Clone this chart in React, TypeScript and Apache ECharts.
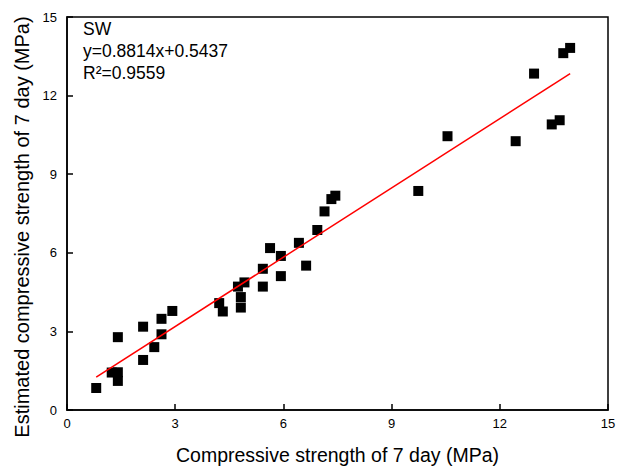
import React, { useEffect, useRef } from "react";
import * as echarts from "echarts";

const measuredX = [
  0.81, 1.24, 1.41, 1.41, 1.41, 2.11, 2.11, 2.42, 2.62, 2.62, 2.92,
  4.22, 4.32, 4.74, 4.92, 4.82, 4.82, 5.43, 5.43, 5.63, 5.93, 5.93, 6.43, 6.63, 6.94, 7.14, 7.33, 7.44,
  10.55, 9.74, 12.95, 12.44, 13.44, 13.66, 13.76, 13.95,
];
const estimatedY = [
  0.84, 1.43, 1.44, 1.11, 2.78, 3.18, 1.91, 2.4, 3.48, 2.89, 3.78,
  4.08, 3.76, 4.71, 4.87, 4.31, 3.91, 4.71, 5.39, 6.18, 5.88, 5.11, 6.38, 5.51, 6.87, 7.58, 8.05, 8.18,
  10.45, 8.36, 12.84, 10.26, 10.9, 11.06, 13.62, 13.82,
];
const slope = 0.8814;
const intercept = 0.5437;
const fitRange = [0.81, 13.95];
const ticks = [0, 3, 6, 9, 12, 15];
const labels = ["SW", "y=0.8814x+0.5437", "R²=0.9559"];
const xTitle = "Compressive strength of 7 day (MPa)";
const yTitle = "Estimated compressive strength of 7 day (MPa)";

const FONT = "'Liberation Sans', Arial, sans-serif";

export default function App() {
  const ref = useRef<HTMLDivElement>(null);
  useEffect(() => {
    if (!ref.current) return;
    const chart = echarts.init(ref.current, undefined, { renderer: "svg" });
    const points = measuredX.map((x, i) => [x, estimatedY[i]]);
    const fit = fitRange.map((x) => [x, slope * x + intercept]);
    const axisCommon = {
      min: ticks[0],
      max: ticks[ticks.length - 1],
      interval: 3,
      axisLine: { show: true, onZero: false, lineStyle: { color: "#000", width: 1.5 } },
      axisTick: { show: true, inside: true, length: 6, lineStyle: { color: "#000", width: 1.5 } },
      splitLine: { show: false },
    };
    chart.setOption({
      animation: false,
      backgroundColor: "#fff",
      grid: {
        left: 67,
        right: 20,
        top: 17,
        bottom: 55,
        show: true,
        borderColor: "#000",
        borderWidth: 1.5,
      },
      xAxis: {
        type: "value",
        ...axisCommon,
        axisLabel: { color: "#000", fontSize: 13, fontFamily: FONT, margin: 7 },
        name: xTitle,
        nameLocation: "middle",
        nameGap: 35,
        nameTextStyle: { color: "#000", fontSize: 19.5, fontFamily: FONT },
      },
      yAxis: {
        type: "value",
        ...axisCommon,
        axisLabel: { color: "#000", fontSize: 13, fontFamily: FONT, margin: 10 },
      },
      series: [
        {
          type: "scatter",
          data: points,
          symbol: "rect",
          symbolSize: 10,
          itemStyle: { color: "#000", opacity: 1 },
        },
        {
          type: "line",
          data: fit,
          showSymbol: false,
          symbol: "none",
          lineStyle: { color: "#ff0000", width: 1.5 },
        },
      ],
      graphic: [
        ...labels.map((t, i) => ({
          type: "text",
          left: 83,
          top: 20 + i * 22,
          style: { text: t, fill: "#000", fontSize: 17.5, fontFamily: FONT },
        })),
        {
          type: "text",
          x: 22,
          y: 227,
          rotation: Math.PI / 2,
          style: {
            text: yTitle,
            fill: "#000",
            fontSize: 20,
            fontFamily: FONT,
            textAlign: "center",
            textVerticalAlign: "middle",
          },
        },
      ],
    });
    return () => chart.dispose();
  }, []);
  return (
    <div
      ref={ref}
      style={{ position: "fixed", left: 0, top: 0, width: 628, height: 470 }}
    />
  );
}
